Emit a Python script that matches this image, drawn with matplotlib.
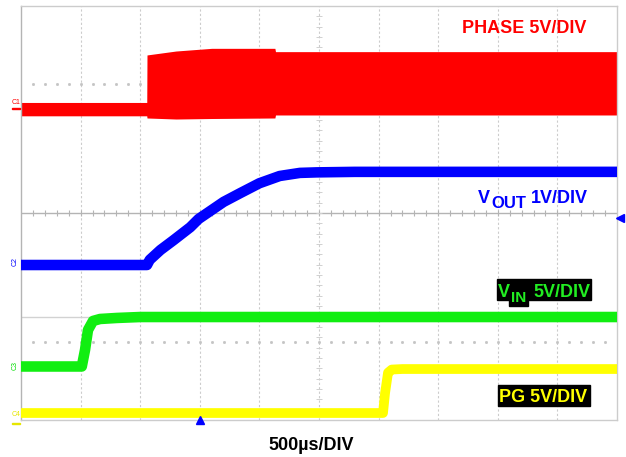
import matplotlib
matplotlib.use("Agg")
import matplotlib.pyplot as plt
from matplotlib.patches import Rectangle

plt.rcParams["font.family"] = ["Liberation Sans", "DejaVu Sans"]

phase_t = [0.0, 1.055, 1.057, 1.30, 1.60, 2.13, 2.135, 5.0]
phase_hi = [0.63, 0.63, 5.22, 5.60, 5.86, 5.86, 5.54, 5.54]
phase_lo = [-0.66, -0.66, -0.87, -0.97, -0.92, -0.87, -0.58, -0.58]

vout_t = [0.0, 1.057, 1.08, 1.17, 1.28, 1.42, 1.49, 1.70, 1.84, 2.0, 2.17, 2.34, 2.48, 2.8, 5.0]
vout_v = [0.0, 0.0, 0.10, 0.29, 0.48, 0.73, 0.89, 1.22, 1.39, 1.58, 1.72, 1.78, 1.79, 1.80, 1.80]

vin_t = [0.0, 0.51, 0.537, 0.562, 0.604, 0.663, 0.805, 1.0, 5.0]
vin_v = [0.0, 0.0, 1.59, 3.53, 4.40, 4.59, 4.69, 4.78, 4.78]

pg_t = [0.0, 3.037, 3.054, 3.079, 3.11, 3.2, 5.0]
pg_v = [0.0, 0.0, 1.9, 3.9, 4.2, 4.25, 4.25]

# Canali: (posizione dello zero in divisioni, volt per divisione)
ch1_offset, ch1_scale = 6.01, 5.0
ch2_offset, ch2_scale = 2.995, 1.0
ch3_offset, ch3_scale = 1.034, 5.0
ch4_offset, ch4_scale = 0.135, 5.0

time_per_div = 0.5
trigger_time = 1.5
trigger_level = 0.9

W, H = 626, 457
fig = plt.figure(figsize=(W / 100, H / 100), dpi=100)
ax = fig.add_axes([21 / W, (H - 420) / H, 596 / W, 414 / H])
ax.set_xlim(0, 10 * time_per_div)
ax.set_ylim(0, 8)
ax.set_xticks([])
ax.set_yticks([])
for s in ax.spines.values():
    s.set_color("#cccccc")
    s.set_linewidth(1)
ax.spines["left"].set_color("#b4b4b4")

# Griglia
for i in range(1, 10):
    ax.axvline(i * time_per_div, color="#cccccc", lw=0.8, ls=(0, (2, 2)), zorder=0)
ax.axhline(4, color="#b4b4b4", lw=1, zorder=0)
ax.axhline(2, color="#d2d2d2", lw=1, zorder=0)
minor_x = [k * time_per_div / 5 for k in range(1, 50)]
minor_y = [k * 0.2 for k in range(1, 40)]
ax.plot(minor_x, [4] * len(minor_x), ls="none", marker="|", ms=5, mew=0.8, color="#b4b4b4", zorder=0)
ax.plot([5 * time_per_div] * len(minor_y), minor_y, ls="none", marker="_", ms=4, mew=0.7, color="#d0d0d0", zorder=0)
for yy in (1.5, 6.5):
    ax.plot(minor_x, [yy] * len(minor_x), ls="none", marker="s", ms=1, color="#c4c4c4", zorder=0)

# Tracce
ax.fill_between(phase_t, [ch1_offset + v / ch1_scale for v in phase_lo],
                [ch1_offset + v / ch1_scale for v in phase_hi],
                color="#ff0000", lw=0, zorder=2)
ax.plot(vout_t, [ch2_offset + v / ch2_scale for v in vout_v], color="#0000ff", lw=7.6,
        solid_capstyle="butt", solid_joinstyle="round", zorder=3)
ax.plot(vin_t, [ch3_offset + v / ch3_scale for v in vin_v], color="#11ee11", lw=7.6,
        solid_capstyle="butt", solid_joinstyle="round", zorder=3)
ax.plot(pg_t, [ch4_offset + v / ch4_scale for v in pg_v], color="#ffff00", lw=7.0,
        solid_capstyle="butt", solid_joinstyle="round", zorder=3)

# Marcatori di trigger
ax.plot([trigger_time], [0], marker="^", ms=6, color="#0000ff", clip_on=False,
        transform=ax.get_xaxis_transform(), zorder=5)
ax.plot([1.005], [ch2_offset + trigger_level / ch2_scale], marker="<", ms=6, color="#0000ff",
        clip_on=False, transform=ax.get_yaxis_transform(), zorder=5)

# Etichette dei canali a sinistra
def px(x, y):
    return x / W, 1 - y / H

tx, ty = px(16, 103)
fig.text(tx, ty, "C1", color="#ff0000", fontsize=5, ha="center", va="center")
tx, ty = px(15, 262)
fig.text(tx, ty, "C2", color="#0000ff", fontsize=5, ha="center", va="center", rotation=90)
tx, ty = px(15, 365)
fig.text(tx, ty, "C3", color="#00dd00", fontsize=5, ha="center", va="center", rotation=90)
tx, ty = px(16, 414)
fig.text(tx, ty, "C4", color="#e6e600", fontsize=5, ha="center", va="center")
for yy, c in ((108, "#ff0000"), (423, "#e6e600")):
    fig.add_artist(Rectangle(px(12, yy + 1), 8 / W, 1.5 / H, color=c, transform=fig.transFigure))

# Testi
bold = dict(fontweight="bold", va="baseline")
x, y = px(586, 33)
fig.text(x, y, "PHASE 5V/DIV", color="#ff0000", fontsize=13, ha="right", **bold)

x, y = px(478, 203)
fig.text(x, y, "V", color="#0000ff", fontsize=13, ha="left", **bold)
x, y = px(491, 208)
fig.text(x, y, "OUT", color="#0000ff", fontsize=12, ha="left", **bold)
x, y = px(531, 203)
fig.text(x, y, "1V/DIV", color="#0000ff", fontsize=13, ha="left", **bold)

fig.add_artist(Rectangle(px(497, 300), 94 / W, 21 / H, color="black", transform=fig.transFigure))
fig.add_artist(Rectangle(px(509, 306), 19 / W, 7 / H, color="black", transform=fig.transFigure))
x, y = px(498, 297)
fig.text(x, y, "V", color="#22ee22", fontsize=13, ha="left", **bold)
x, y = px(511, 302)
fig.text(x, y, "IN", color="#22ee22", fontsize=11, ha="left", **bold)
x, y = px(533, 297)
fig.text(x, y, "5V/DIV", color="#22ee22", fontsize=13, ha="left", **bold)

fig.add_artist(Rectangle(px(498, 406), 92 / W, 21 / H, color="black", transform=fig.transFigure))
x, y = px(499, 402)
fig.text(x, y, "PG 5V/DIV", color="#ffff00", fontsize=13, ha="left", **bold)

x, y = px(268, 450)
fig.text(x, y, "500µs/DIV", color="black", fontsize=13, ha="left", **bold)

fig.savefig("out.png", dpi=100)
